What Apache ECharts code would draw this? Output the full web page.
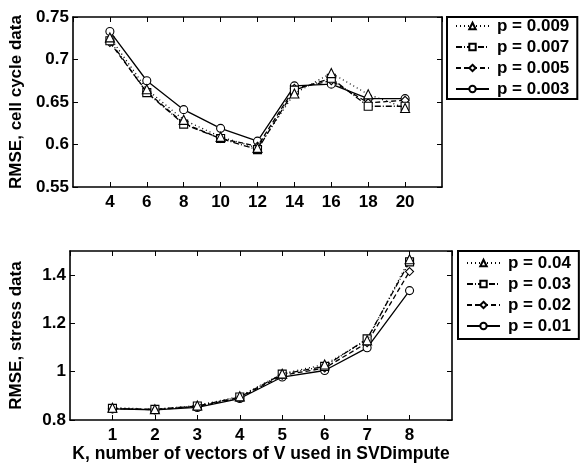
<!DOCTYPE html>
<html lang="en">
<head>
<meta charset="UTF-8">
<title>RMSE vs K</title>
<script src="https://cdn.jsdelivr.net/npm/echarts@6/dist/echarts.min.js"></script>
<style>
  *{ margin:0; padding:0; }
  body{ background:#fff; }
  #chart{ width:583px; height:465px; }
</style>
</head>
<body>
<div id="chart"></div>
<script type="text/javascript">
// top panel: cell cycle data
var kTop = [4, 6, 8, 10, 12, 14, 16, 18, 20];
var topNames = ['p = 0.009', 'p = 0.007', 'p = 0.005', 'p = 0.003'];
var top009 = [0.726, 0.665, 0.629, 0.609, 0.596, 0.660, 0.684, 0.659, 0.643];
var top007 = [0.722, 0.661, 0.624, 0.607, 0.594, 0.664, 0.678, 0.645, 0.645];
var top005 = [0.720, 0.662, 0.625, 0.607, 0.598, 0.666, 0.675, 0.649, 0.652];
var top003 = [0.733, 0.675, 0.641, 0.619, 0.604, 0.669, 0.671, 0.654, 0.654];

// bottom panel: stress data
var kBot = [1, 2, 3, 4, 5, 6, 7, 8];
var botNames = ['p = 0.04', 'p = 0.03', 'p = 0.02', 'p = 0.01'];
var bot04 = [0.851, 0.845, 0.860, 0.898, 0.992, 1.030, 1.130, 1.466];
var bot03 = [0.848, 0.844, 0.858, 0.895, 0.990, 1.022, 1.136, 1.455];
var bot02 = [0.847, 0.843, 0.856, 0.892, 0.985, 1.015, 1.120, 1.415];
var bot01 = [0.846, 0.842, 0.852, 0.889, 0.978, 1.005, 1.099, 1.336];

var symbols = ['triangle', 'rect', 'diamond', 'circle'];
var dashes = [[1, 3], [6, 2, 1, 2], [5, 3], 'solid'];
var F = 'Liberation Sans, Arial, sans-serif';

function pairs(xs, ys){
    var out = [];
    for(var i=0;i<xs.length;i++){ out.push([xs[i], ys[i]]); }
    return out;
}

function mkSeries(names, xs, sets, gi){
    var arr = [];
    for(var i=0;i<names.length;i++){
        arr.push({
            name: names[i],
            type: 'line',
            xAxisIndex: gi*2,
            yAxisIndex: gi*2,
            data: pairs(xs, sets[i]),
            symbol: symbols[i],
            symbolSize: i==0 ? 9 : 8,
            showAllSymbol: true,
            lineStyle: { color:'#000', width:1.3, type: dashes[i] },
            itemStyle: { color:'#fff', borderColor:'#000', borderWidth:1.1 },
            z: 10 - i,
            animation: false
        });
    }
    return arr;
}

var lineAx = { show:true, onZero:false, lineStyle:{ color:'#000', width:1.6 } };
var tickIn = { show:true, inside:true, length:5, lineStyle:{ color:'#000', width:1 } };
var lab = { color:'#000', fontWeight:'bold', fontSize:17, fontFamily:F };

function xAx(gi, min, max, itv, pos, showLab, name){
    return {
        type:'value', gridIndex:gi, position:pos, min:min, max:max, interval:itv,
        axisLine:lineAx, axisTick:tickIn, splitLine:{show:false},
        axisLabel: Object.assign({ show:showLab, margin:7, showMinLabel:false, showMaxLabel:false }, lab),
        name: name || '', nameLocation:'middle', nameGap:21,
        nameTextStyle: Object.assign({}, lab, { fontSize:17.5 })
    };
}
function yAx(gi, min, max, itv, pos, showLab, name){
    return {
        type:'value', gridIndex:gi, position:pos, min:min, max:max, interval:itv,
        axisLine:lineAx, axisTick:tickIn, splitLine:{show:false},
        axisLabel: Object.assign({ show:showLab, margin:4, showMaxLabel: gi==0 }, lab),
        name: name || '', nameLocation:'middle', nameGap:45,
        nameTextStyle: Object.assign({}, lab)
    };
}

function legendFor(names, left, top, pad, gap){
    return {
        data:names, left:left, top:top,
        orient:'vertical', backgroundColor:'#fff',
        borderColor:'#000', borderWidth:2, borderRadius:0,
        padding:pad, itemWidth:33, itemHeight:8, itemGap:gap,
        textStyle: { color:'#000', fontWeight:'bold', fontSize:17, fontFamily:F, lineHeight:18, padding:[0,0,0,3] },
        selectedMode:false
    };
}

var option = {
    animation:false,
    backgroundColor:'#fff',
    grid:[
        { left:67, top:17, width:375, height:170 },
        { left:67, top:251, width:385, height:169 }
    ],
    xAxis:[
        xAx(0, 2, 22, 2, 'bottom', true),
        xAx(0, 2, 22, 2, 'top', false),
        xAx(1, 0, 9, 1, 'bottom', true, 'K, number of vectors of V used in SVDimpute'),
        xAx(1, 0, 9, 1, 'top', false)
    ],
    yAxis:[
        yAx(0, 0.55, 0.75, 0.05, 'left', true, 'RMSE, cell cycle data'),
        yAx(0, 0.55, 0.75, 0.05, 'right', false),
        yAx(1, 0.8, 1.5, 0.2, 'left', true, 'RMSE, stress data'),
        yAx(1, 0.8, 1.5, 0.2, 'right', false)
    ],
    legend:[
        legendFor(topNames, 447, 17, [0, 8, 1, 8], 3),
        legendFor(botNames, 458, 251, [3, 8, 4, 8], 3)
    ],
    series: mkSeries(topNames, kTop, [top009, top007, top005, top003], 0)
        .concat(mkSeries(botNames, kBot, [bot04, bot03, bot02, bot01], 1))
};

var myChart = echarts.init(document.getElementById('chart'), null, { renderer:'canvas' });
myChart.setOption(option);
</script>
</body>
</html>
